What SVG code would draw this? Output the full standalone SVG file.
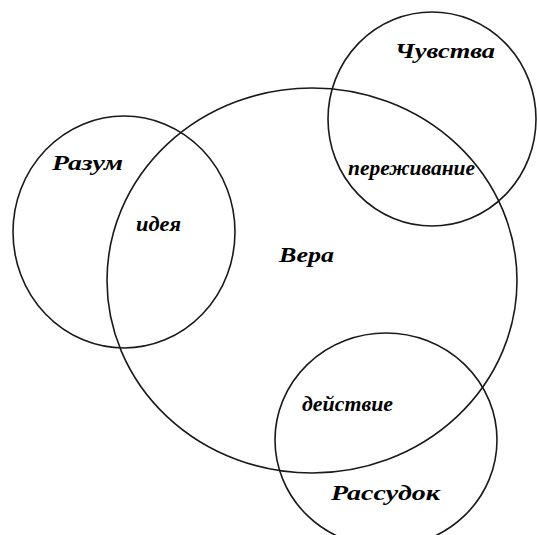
<svg xmlns="http://www.w3.org/2000/svg" width="537" height="535" viewBox="0 0 537 535">
<style>
.c{fill:none;stroke:#1a1a1a;stroke-width:1.6}
.t{font-family:"Liberation Serif","DejaVu Serif",serif;font-style:italic;font-weight:bold;font-size:20px;fill:#000}
</style>
<rect width="537" height="535" fill="#fff"/>
<g id="vera">
<ellipse class="c" cx="312" cy="280.5" rx="205" ry="192.5"/>
<text class="t" x="279" y="262" textLength="55" lengthAdjust="spacingAndGlyphs">Вера</text>
</g>
<g id="razum">
<ellipse class="c" cx="124" cy="232" rx="111" ry="116"/>
<text class="t" x="52" y="170" textLength="71" lengthAdjust="spacingAndGlyphs">Разум</text>
</g>
<g id="chuvstva">
<ellipse class="c" cx="432" cy="119" rx="104" ry="107"/>
<text class="t" x="395" y="58" textLength="100" lengthAdjust="spacingAndGlyphs">Чувства</text>
</g>
<g id="rassudok">
<ellipse class="c" cx="386" cy="440" rx="111" ry="107"/>
<text class="t" x="331" y="500" textLength="109" lengthAdjust="spacingAndGlyphs">Рассудок</text>
</g>
<g id="idea">
<text class="t" x="136" y="231" textLength="45" lengthAdjust="spacingAndGlyphs">идея</text>
</g>
<g id="perezhivanie">
<text class="t" x="348" y="175" textLength="127" lengthAdjust="spacingAndGlyphs">переживание</text>
</g>
<g id="deistvie">
<text class="t" x="302" y="411" textLength="91" lengthAdjust="spacingAndGlyphs">действие</text>
</g>
<g id="connectors"></g>
</svg>
